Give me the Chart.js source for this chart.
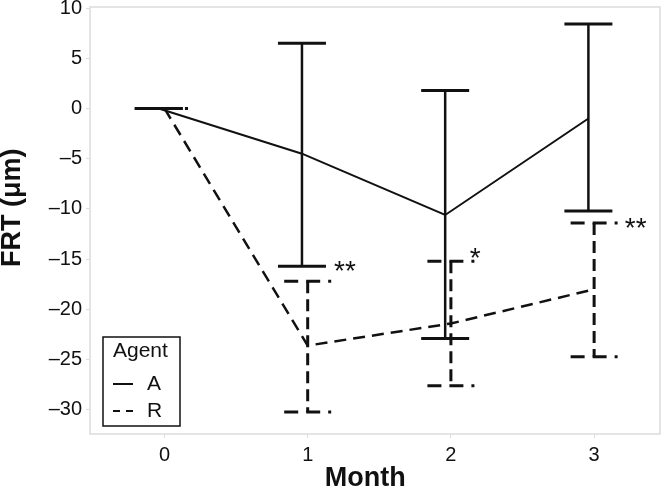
<!DOCTYPE html>
<html>
<head>
<meta charset="utf-8">
<script src="https://cdn.jsdelivr.net/npm/chart.js@4"></script>
<style>
html, body { margin: 0; padding: 0; background: #fff; }
#wrap { width: 662px; height: 492px; }
</style>
</head>
<body>
<div id="wrap"><canvas id="frtChart"></canvas></div>
<script>
const months = [0, 1, 2, 3];
const agentA = [0, -4.5, -10.6, -1.0];
const agentALow = [0, -15.7, -22.9, -10.2];
const agentAHigh = [0, 6.5, 1.8, 8.4];
const agentR = [0, -23.6, -21.4, -18.0];
const agentRLow = [0, -30.2, -27.6, -24.7];
const agentRHigh = [0, -17.2, -15.2, -11.4];
const sigMarks = ["", "**", "*", "**"];
const sigX = [null, 1.26, 2.17, 3.29];
const sigY = [null, -15.7, -14.4, -11.4];
const yTicks = [10, 5, 0, -5, -10, -15, -20, -25, -30];
const xTicks = [0, 1, 2, 3];

const FONT = "Arial, 'Liberation Sans', Helvetica, sans-serif";
const dodgeA = -0.04; // agent A bars sit a bit left of the tick

function seg(ctx, x1, y1, x2, y2) {
    ctx.beginPath();
    ctx.moveTo(x1, y1);
    ctx.lineTo(x2, y2);
    ctx.stroke();
}

const errorBars = {
    id: "errorBars",
    beforeDatasetsDraw(chart) {
        const { ctx, chartArea: a } = chart;
        ctx.save();
        ctx.strokeStyle = "#dcdcdc";
        ctx.lineWidth = 1.5;
        ctx.strokeRect(a.left, a.top, a.right - a.left, a.bottom - a.top);
        ctx.restore();
    },
    afterDatasetsDraw(chart) {
        const { ctx, scales: { x, y } } = chart;
        ctx.save();
        ctx.strokeStyle = "#111";
        months.forEach((m, i) => {
            // agent A, solid
            const ax = x.getPixelForValue(m + dodgeA);
            const aHi = y.getPixelForValue(agentAHigh[i]);
            const aLo = y.getPixelForValue(agentALow[i]);
            ctx.setLineDash([]);
            ctx.lineWidth = 2.5;
            seg(ctx, ax, aHi, ax, aLo);
            ctx.lineWidth = 3;
            seg(ctx, ax - 24, aHi, ax + 24, aHi);
            seg(ctx, ax - 24, aLo, ax + 24, aLo);

            // agent R, dashed
            const rx = x.getPixelForValue(m);
            const rHi = y.getPixelForValue(agentRHigh[i]);
            const rLo = y.getPixelForValue(agentRLow[i]);
            ctx.lineWidth = 3;
            ctx.setLineDash([12, 6]);
            seg(ctx, rx, rHi, rx, rLo);
            ctx.setLineDash([14, 8]);
            seg(ctx, rx - 23.5, rHi, rx + 23.5, rHi);
            seg(ctx, rx - 23.5, rLo, rx + 23.5, rLo);
        });
        ctx.setLineDash([]);

        // significance marks
        ctx.fillStyle = "#111";
        ctx.font = "28px " + FONT;
        ctx.textAlign = "center";
        ctx.textBaseline = "middle";
        sigMarks.forEach((s, i) => {
            if (!s) return;
            ctx.fillText(s, x.getPixelForValue(sigX[i]), y.getPixelForValue(sigY[i]) + 6);
        });
        ctx.restore();
    },
    afterDraw(chart) {
        const { ctx, chartArea: a } = chart;
        ctx.save();
        ctx.fillStyle = "#111";

        // axis titles
        ctx.font = "bold 27px " + FONT;
        ctx.textAlign = "center";
        ctx.textBaseline = "middle";
        ctx.fillText("Month", a.left + (a.right - a.left) * 0.483, 479);
        ctx.translate(13, a.top + (a.bottom - a.top) * 0.47);
        ctx.rotate(-Math.PI / 2);
        ctx.fillText("FRT (μm)", 0, 0);
        ctx.restore();

        // legend box
        ctx.save();
        const lx = 103, ly = 337, lw = 77, lh = 89;
        ctx.strokeStyle = "#111";
        ctx.lineWidth = 1.5;
        ctx.strokeRect(lx, ly, lw, lh);
        ctx.fillStyle = "#111";
        ctx.font = "21px " + FONT;
        ctx.textAlign = "left";
        ctx.textBaseline = "middle";
        ctx.fillText("Agent", lx + 10, ly + 14);
        chart.data.datasets.forEach((ds, i) => {
            const yy = ly + 47 + i * 27;
            ctx.lineWidth = 2;
            ctx.setLineDash(ds.borderDash ? [7, 6] : []);
            seg(ctx, lx + 10, yy, lx + 30, yy);
            ctx.setLineDash([]);
            ctx.fillText(ds.label, lx + 44, yy);
        });
        ctx.restore();
    }
};

new Chart(document.getElementById("frtChart"), {
    type: "line",
    data: {
        datasets: [
            {
                label: "A",
                data: months.map((m, i) => ({ x: m + dodgeA, y: agentA[i] })),
                borderColor: "#111",
                borderWidth: 2,
                pointRadius: 0,
                tension: 0
            },
            {
                label: "R",
                data: months.map((m, i) => ({ x: m, y: agentR[i] })),
                borderColor: "#111",
                borderWidth: 2.5,
                borderDash: [12, 7],
                pointRadius: 0,
                tension: 0
            }
        ]
    },
    options: {
        responsive: true,
        maintainAspectRatio: false,
        animation: false,
        layout: { padding: { top: 7, right: 2, left: 0, bottom: 0 } },
        scales: {
            x: {
                type: "linear",
                min: -0.52,
                max: 3.46,
                afterBuildTicks: scale => { scale.ticks = xTicks.map(v => ({ value: v })); },
                afterFit: scale => { scale.height = 58; },
                grid: { drawOnChartArea: false, tickLength: 4, color: "#dcdcdc" },
                border: { display: false },
                ticks: {
                    color: "#111",
                    padding: 5,
                    font: { family: FONT, size: 20 }
                }
            },
            y: {
                min: -32.4,
                max: 10.1,
                afterBuildTicks: scale => { scale.ticks = yTicks.map(v => ({ value: v })); },
                afterFit: scale => {
                    scale.width = 90;
                    scale.paddingTop = 0;
                    scale.paddingBottom = 0;
                },
                grid: { drawOnChartArea: false, tickLength: 4, color: "#dcdcdc" },
                border: { display: false },
                ticks: {
                    color: "#111",
                    padding: 4,
                    font: { family: FONT, size: 20 },
                    callback: v => (v < 0 ? "–" + Math.abs(v) : String(v))
                }
            }
        },
        plugins: {
            legend: { display: false },
            tooltip: { enabled: false }
        }
    },
    plugins: [errorBars]
});
</script>
</body>
</html>
